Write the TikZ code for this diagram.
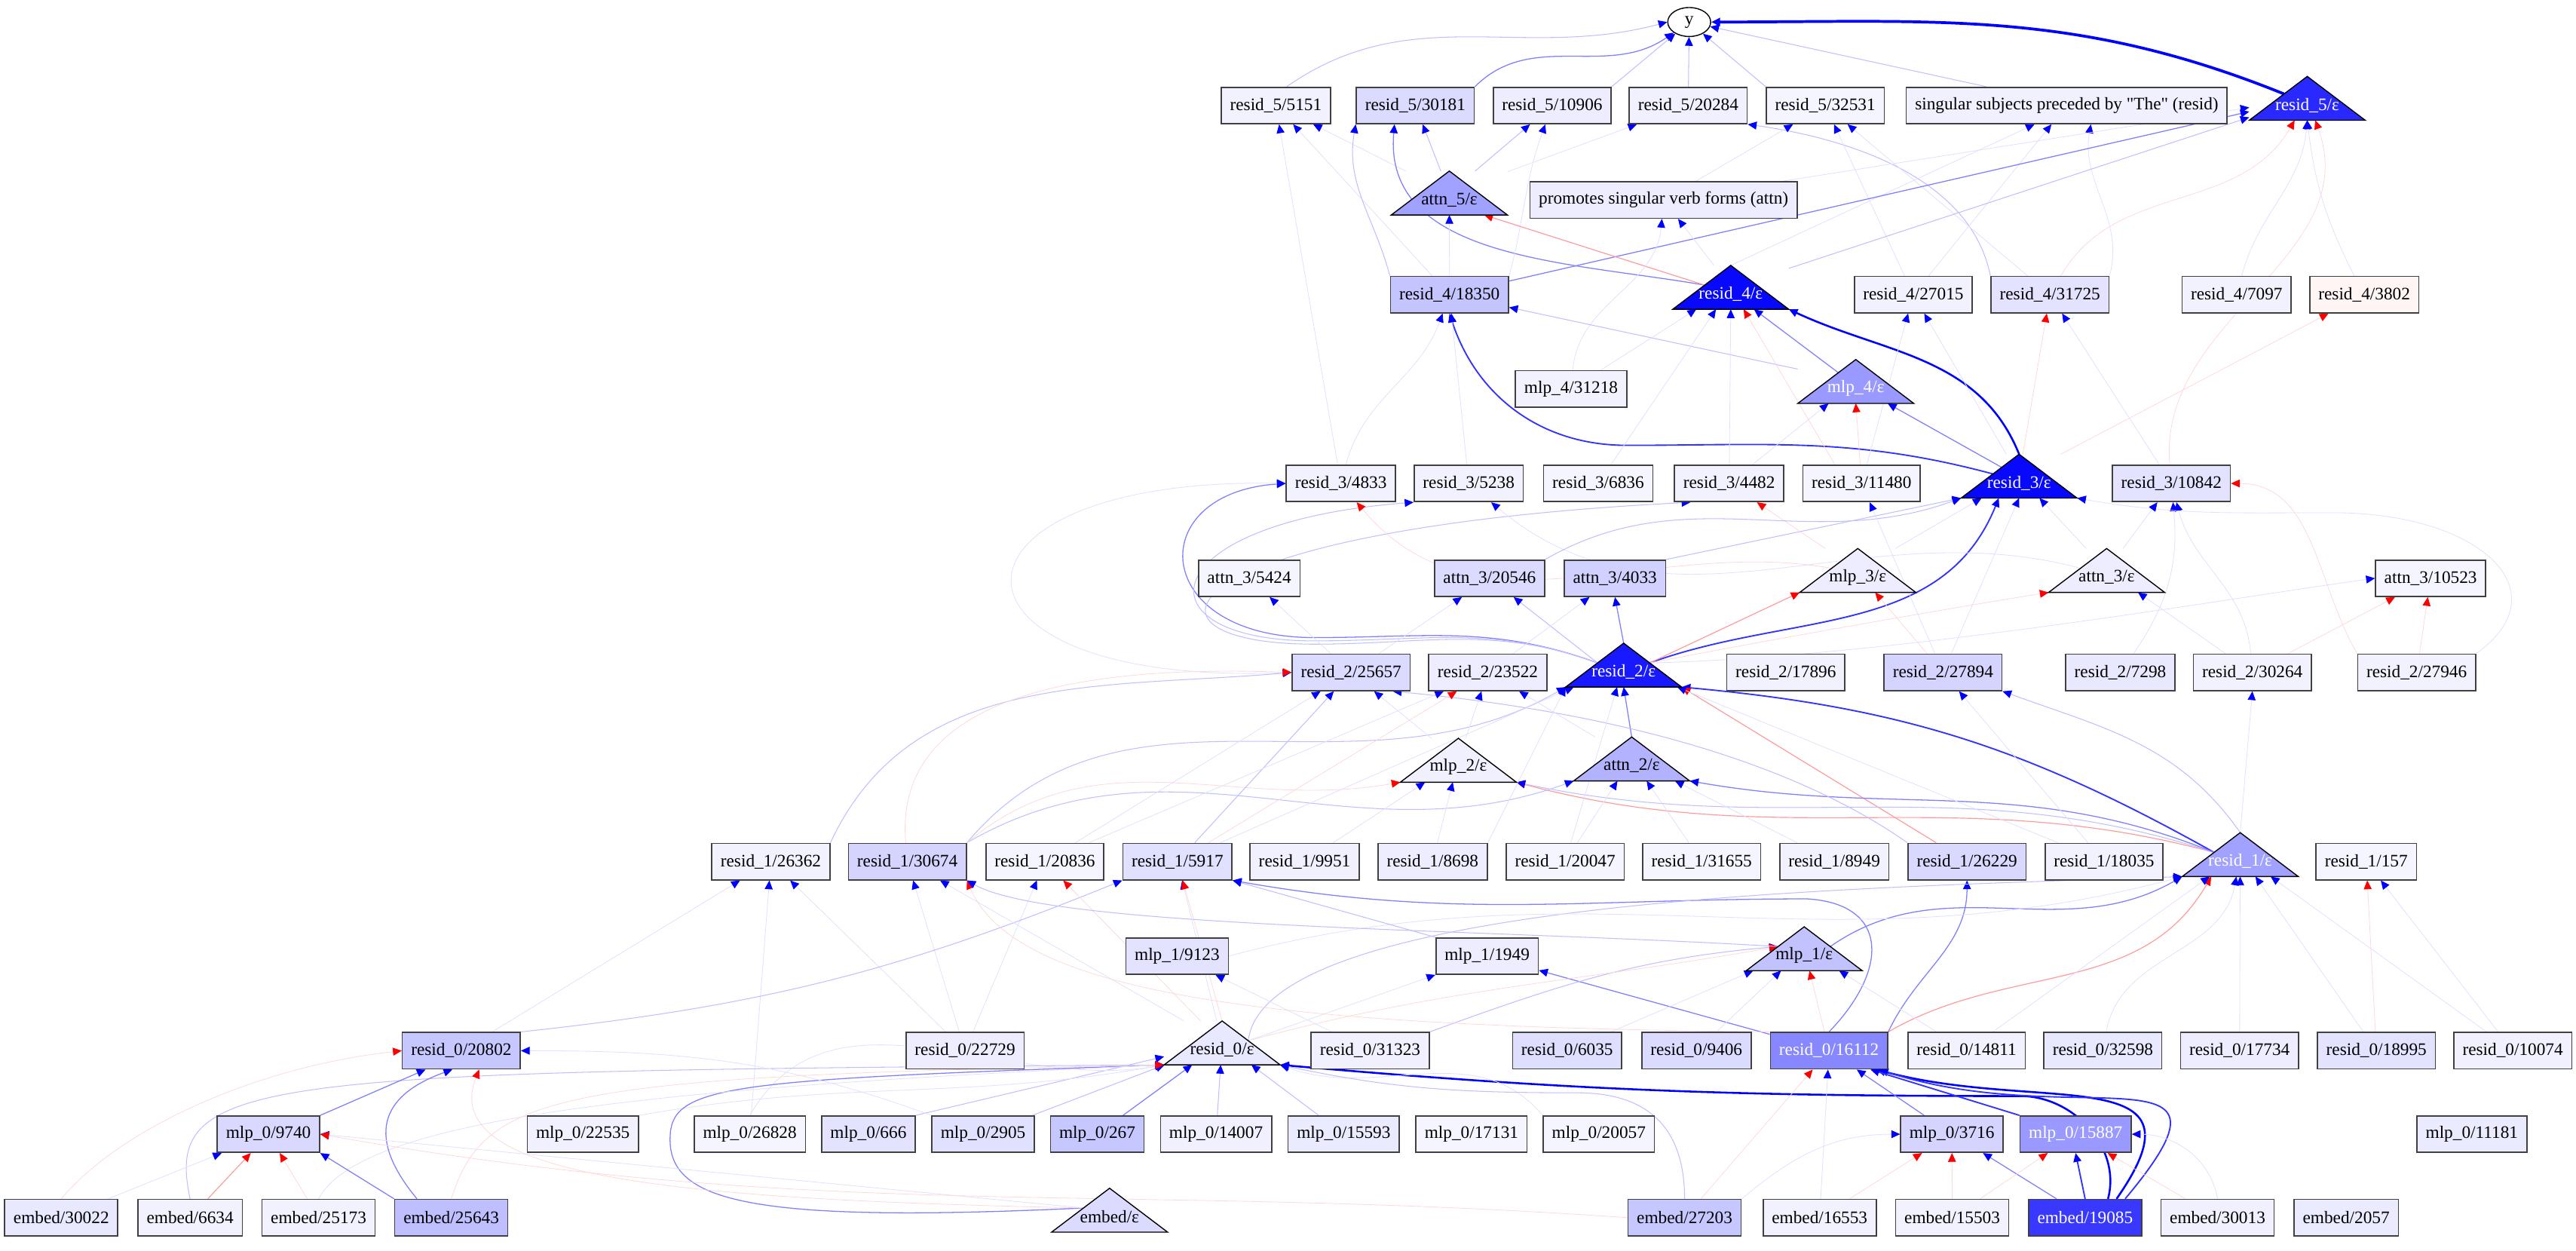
\documentclass[tikz,border=0pt]{standalone}
\usepackage{fontspec}
\setmainfont{Liberation Serif}[Ligatures=TeXOff]
\usetikzlibrary{arrows.meta,calc,shapes.geometric}
\pgfdeclarelayer{edges}
\pgfsetlayers{edges,main}

\tikzset{
  box/.style={draw=black!75,line width=0.7pt,minimum height=0.73cm,inner xsep=5pt,inner ysep=0pt},
  tribox/.style={minimum width=2.31cm,minimum height=0.865cm,inner sep=0pt},
  ynode/.style={ellipse,draw,fill=white,line width=0.6pt,minimum width=0.86cm,minimum height=0.58cm,inner sep=0pt},
  bt/.style={-{Triangle[color=blue,length=5pt,width=4.5pt]}},
  rt/.style={-{Triangle[color=red,length=5pt,width=4.5pt]}},
  w0/.style={bt,draw=blue!12,line width=0.35pt},
  w1/.style={bt,draw=blue!25,line width=0.45pt},
  w2/.style={bt,draw=blue!50,line width=0.55pt},
  w3/.style={bt,draw=blue!80,line width=0.8pt},
  w4/.style={bt,draw=blue,line width=1.1pt},
  w5/.style={bt,draw=blue,line width=1.6pt},
  rd0/.style={rt,draw=red!15,line width=0.35pt},
  rd1/.style={rt,draw=red!40,line width=0.5pt}
}

% triangle node: name, x, y of label, fill, text colour, label
\newcommand{\trinode}[6]{%
  \path (#2,#3) ++(0,4.15) node[tribox] (#1) {};
  \filldraw[fill=#4,draw=black,line width=0.6pt] (#1.south west) -- (#1.south east) -- (#1.north) -- cycle;
  \node[text=#5,inner sep=0pt] (#1-t) at (#2,#3) {#6};
  \coordinate (#1-l) at ($(#1.north)!0.45!(#1.south west)$);
  \coordinate (#1-r) at ($(#1.north)!0.45!(#1.south east)$);
}

\begin{document}
\begin{tikzpicture}[x=0.0329cm,y=0.0329cm]
  \useasboundingbox (0,0) rectangle (1568,-761);

  \node[ynode] (y) at (1028.2,-13.4) {y};

  % resid_5
  \node[box,fill=blue!5] (r5a) at (776.6,-64.2) {resid\_5/5151};
  \node[box,fill=blue!14] (r5b) at (861.5,-64.2) {resid\_5/30181};
  \node[box,fill=blue!7] (r5c) at (944.8,-64.2) {resid\_5/10906};
  \node[box,fill=blue!6] (r5d) at (1027.6,-64.2) {resid\_5/20284};
  \node[box,fill=blue!4] (r5e) at (1111,-64.2) {resid\_5/32531};
  \node[box,fill=blue!6] (r5f) at (1258,-64.2) {singular subjects preceded by "The" (resid)};
  \trinode{r5eps}{1404.4}{-64}{blue!84}{white}{resid\_5/ε}

  \trinode{a5eps}{882.2}{-121.6}{blue!37}{black}{attn\_5/ε}
  \node[box,fill=blue!7] (a5f) at (1012.6,-121.7) {promotes singular verb forms (attn)};

  % resid_4
  \node[box,fill=blue!23] (r4a) at (882.3,-179.3) {resid\_4/18350};
  \trinode{r4eps}{1053.5}{-179}{blue!97}{white}{resid\_4/ε}
  \node[box,fill=blue!5] (r4b) at (1164.6,-179.3) {resid\_4/27015};
  \node[box,fill=blue!11] (r4c) at (1247.8,-179.3) {resid\_4/31725};
  \node[box,fill=blue!5] (r4d) at (1361.4,-179.3) {resid\_4/7097};
  \node[box,fill=red!4] (r4e) at (1439.1,-179.3) {resid\_4/3802};

  \node[box,fill=blue!5] (m4a) at (956.3,-236.7) {mlp\_4/31218};
  \trinode{m4eps}{1129.6}{-236.3}{blue!40}{white}{mlp\_4/ε}

  % resid_3
  \node[box,fill=blue!5] (r3a) at (816.2,-294.2) {resid\_3/4833};
  \node[box,fill=blue!5] (r3b) at (894,-294.2) {resid\_3/5238};
  \node[box,fill=blue!4] (r3c) at (972.8,-294.2) {resid\_3/6836};
  \node[box,fill=blue!5] (r3d) at (1052.5,-294.2) {resid\_3/4482};
  \node[box,fill=blue!4] (r3e) at (1133.1,-294.2) {resid\_3/11480};
  \trinode{r3eps}{1229}{-293.9}{blue!97}{white}{resid\_3/ε}
  \node[box,fill=blue!11] (r3f) at (1321.7,-294.2) {resid\_3/10842};

  \node[box,fill=blue!4] (a3a) at (760.4,-351.9) {attn\_3/5424};
  \node[box,fill=blue!14] (a3b) at (906.7,-351.9) {attn\_3/20546};
  \node[box,fill=blue!18] (a3c) at (983,-351.9) {attn\_3/4033};
  \trinode{m3eps}{1130.8}{-351.3}{blue!7}{black}{mlp\_3/ε}
  \trinode{a3eps}{1282.3}{-351.3}{blue!7}{black}{attn\_3/ε}
  \node[box,fill=blue!4] (a3d) at (1479.5,-351.9) {attn\_3/10523};

  % resid_2
  \node[box,fill=blue!14] (r2a) at (822.4,-409.2) {resid\_2/25657};
  \node[box,fill=blue!7] (r2b) at (905.6,-409.2) {resid\_2/23522};
  \trinode{r2eps}{988.3}{-408.9}{blue!90}{white}{resid\_2/ε}
  \node[box,fill=blue!5] (r2c) at (1087,-409.2) {resid\_2/17896};
  \node[box,fill=blue!17] (r2d) at (1182.7,-409.2) {resid\_2/27894};
  \node[box,fill=blue!9] (r2e) at (1290.6,-409.2) {resid\_2/7298};
  \node[box,fill=blue!5] (r2f) at (1371,-409.2) {resid\_2/30264};
  \node[box,fill=blue!5] (r2g) at (1471,-409.2) {resid\_2/27946};

  \trinode{m2eps}{887.7}{-466.8}{blue!6}{black}{mlp\_2/ε}
  \trinode{a2eps}{993.2}{-466}{blue!30}{black}{attn\_2/ε}

  % resid_1
  \node[box,fill=blue!5] (r1a) at (469.2,-524.3) {resid\_1/26362};
  \node[box,fill=blue!17] (r1b) at (552.3,-524.3) {resid\_1/30674};
  \node[box,fill=blue!4] (r1c) at (636,-524.3) {resid\_1/20836};
  \node[box,fill=blue!12] (r1d) at (716.7,-524.3) {resid\_1/5917};
  \node[box,fill=blue!6] (r1e) at (794.1,-524.3) {resid\_1/9951};
  \node[box,fill=blue!7] (r1f) at (872,-524.3) {resid\_1/8698};
  \node[box,fill=blue!4] (r1g) at (952.7,-524.3) {resid\_1/20047};
  \node[box,fill=blue!4] (r1h) at (1035.8,-524.3) {resid\_1/31655};
  \node[box,fill=blue!5] (r1i) at (1116.5,-524.3) {resid\_1/8949};
  \node[box,fill=blue!15] (r1j) at (1197.3,-524.3) {resid\_1/26229};
  \node[box,fill=blue!5] (r1k) at (1280.7,-524.3) {resid\_1/18035};
  \trinode{r1eps}{1363.6}{-524.2}{blue!37}{white}{resid\_1/ε}
  \node[box,fill=blue!4] (r1l) at (1440.3,-524.3) {resid\_1/157};

  \node[box,fill=blue!11] (m1a) at (716.5,-581.8) {mlp\_1/9123};
  \node[box,fill=blue!7] (m1b) at (905.2,-581.8) {mlp\_1/1949};
  \trinode{m1eps}{1098.2}{-581.5}{blue!24}{black}{mlp\_1/ε}

  % resid_0
  \node[box,fill=blue!22] (r0a) at (280.8,-639.4) {resid\_0/20802};
  \node[box,fill=blue!7] (r0b) at (587.4,-639.4) {resid\_0/22729};
  \trinode{r0eps}{743.9}{-638.8}{blue!9}{black}{resid\_0/ε}
  \node[box,fill=blue!6] (r0c) at (834,-639.4) {resid\_0/31323};
  \node[box,fill=blue!13] (r0d) at (953.9,-639.4) {resid\_0/6035};
  \node[box,fill=blue!14] (r0e) at (1032.6,-639.4) {resid\_0/9406};
  \node[box,fill=blue!47,text=white] (r0f) at (1113.3,-639.4) {resid\_0/16112};
  \node[box,fill=blue!5] (r0g) at (1197,-639.4) {resid\_0/14811};
  \node[box,fill=blue!9] (r0h) at (1280,-639.4) {resid\_0/32598};
  \node[box,fill=blue!7] (r0i) at (1363.2,-639.4) {resid\_0/17734};
  \node[box,fill=blue!11] (r0j) at (1446.5,-639.4) {resid\_0/18995};
  \node[box,fill=blue!6] (r0k) at (1529.5,-639.4) {resid\_0/10074};

  % mlp_0
  \node[box,fill=blue!15] (m0a) at (163.4,-690.2) {mlp\_0/9740};
  \node[box,fill=blue!6] (m0b) at (354.8,-690.2) {mlp\_0/22535};
  \node[box,fill=blue!4] (m0c) at (456.4,-690.2) {mlp\_0/26828};
  \node[box,fill=blue!11] (m0d) at (528.6,-690.2) {mlp\_0/666};
  \node[box,fill=blue!12] (m0e) at (598.4,-690.2) {mlp\_0/2905};
  \node[box,fill=blue!22] (m0f) at (667.9,-690.2) {mlp\_0/267};
  \node[box,fill=blue!6] (m0g) at (740.2,-690.2) {mlp\_0/14007};
  \node[box,fill=blue!8] (m0h) at (817.9,-690.2) {mlp\_0/15593};
  \node[box,fill=blue!4] (m0i) at (895.7,-690.2) {mlp\_0/17131};
  \node[box,fill=blue!4] (m0j) at (973.2,-690.2) {mlp\_0/20057};
  \node[box,fill=blue!17] (m0k) at (1188.1,-690.2) {mlp\_0/3716};
  \node[box,fill=blue!40,text=white] (m0l) at (1263.4,-690.2) {mlp\_0/15887};
  \node[box,fill=blue!8] (m0m) at (1504.6,-690.2) {mlp\_0/11181};

  % embed
  \node[box,fill=blue!9] (e1) at (37.3,-741) {embed/30022};
  \node[box,fill=blue!5] (e2) at (115.7,-741) {embed/6634};
  \node[box,fill=blue!5] (e3) at (193.9,-741) {embed/25173};
  \node[box,fill=blue!25] (e4) at (274.7,-741) {embed/25643};
  \trinode{eeps}{675.4}{-740.6}{blue!14}{black}{embed/ε}
  \node[box,fill=blue!22] (e5) at (1025.4,-741) {embed/27203};
  \node[box,fill=blue!5] (e6) at (1107.6,-741) {embed/16553};
  \node[box,fill=blue!5] (e7) at (1188.3,-741) {embed/15503};
  \node[box,fill=blue!78,text=white] (e8) at (1269.2,-741) {embed/19085};
  \node[box,fill=blue!6] (e9) at (1349.8,-741) {embed/30013};
  \node[box,fill=blue!8] (e10) at (1428.1,-741) {embed/2057};

  \begin{pgfonlayer}{edges}
  % into y
  \draw[w5] ($(r5eps.north)!0.4!(r5eps.south west)$) to[out=158,in=0] (y.east);
  \draw[w1] (r5a.60) to[out=35,in=195] (y.west);
  \draw[w2] (r5b.north east) to[out=45,in=215] (y.south west);
  \draw[w1] (r5c.north east) -- (y);
  \draw[w1] (r5d) -- (y);
  \draw[w1] (r5e.north west) -- (y);
  \draw[w1] ($(r5f.north)!0.5!(r5f.north west)$) -- (y);

  % into resid_5 and attn_5
  \draw[w0] (r3a) -- (r5a);
  \draw[w0] (r4a) -- (r5a);
  \draw[w0] (a5eps) -- (r5a);
  \draw[w2] (r4eps-l) to[out=170,in=-95] ($(r5b.south)!0.35!(r5b.south west)$);
  \draw[w1] (a5eps) -- (r5b);
  \draw[w1] (r4a.north west) to[out=105,in=-100] (r5b.south west);
  \draw[w1] (a5eps) -- (r5c);
  \draw[w0] (r4a.north east) to[out=75,in=-110] (r5c);
  \draw[w0] (a5eps) -- (r5d);
  \draw[w1] (r4c.north west) .. controls (1200,-110) and (1130,-85) .. (r5d.south east);
  \draw[w0] (r4b) -- (r5e);
  \draw[w0] (r4c) -- (r5e);
  \draw[w0] (a5f) -- (r5e);
  \draw[w0] (r4eps.north) -- ($(r5f.south)!0.2!(r5f.south west)$);
  \draw[w0] (r4b) -- (r5f);
  \draw[w0] (r4c.north east) to[out=75,in=-100] ($(r5f.south)!0.15!(r5f.south east)$);
  \draw[w2] (r4a) -- (r5eps);
  \draw[w1] (r4eps) -- (r5eps);
  \draw[w0] (a5f) -- (r5eps);
  \draw[rd0] (r4c) to[out=60,in=-120] (r5eps);
  \draw[w0] (r4d) to[out=75,in=-95] (r5eps.south);
  \draw[w0] (r4e) to[bend left=10] (r5eps.south);
  \draw[rd0] (r3f) to[out=95,in=-70] (r5eps);
  \draw[rd1] (r4eps-l) -- ($(a5eps.south)!0.6!(a5eps.south east)$);
  \draw[w0] (r4a) -- (a5eps);
  \draw[w0] (r4eps) -- (a5f);
  \draw[w0] (m4a) to[out=85,in=-95] (a5f);

  % into resid_4 and mlp_4
  \draw[w4] (r3eps.north) to[out=112,in=-25] (r4eps.south east);
  \draw[w3] (r3eps-l) to[out=165,in=0] (990,-271) to[out=180,in=-72] (r4a.south);
  \draw[w2] ($(m4eps.north)!0.3!(m4eps.south west)$) -- ($(r4eps.south)!0.4!(r4eps.south east)$);
  \draw[w2] ($(r3eps.north)!0.3!(r3eps.south west)$) -- ($(m4eps.south)!0.55!(m4eps.south east)$);
  \draw[w1] (m4eps) -- (r4a);
  \draw[w0] (m4a) -- (r4eps);
  \draw[w0] (r3d) -- (r4eps.south);
  \draw[w0] (r3c) -- (r4eps);
  \draw[rd0] ($(r3e.north)!0.45!(r3e.north west)$) -- (r4eps);
  \draw[w0] (r3d) -- (m4eps);
  \draw[rd0] (r3e) -- (m4eps.south);
  \draw[w0] (r3e) -- (r4b);
  \draw[w0] (r3eps) -- (r4b);
  \draw[w0] (r3f) -- (r4c);
  \draw[rd0] (r3eps) -- (r4c);
  \draw[rd0] (r3eps) -- (r4e);
  \draw[w0] (r3a) to[out=75,in=-110] (r4a);
  \draw[w0] (r3b) -- (r4a);

  % into resid_3 and attn_3
  \draw[w3] (r2eps-r) to[out=20,in=-112] ($(r3eps.south)!0.35!(r3eps.south west)$);
  \draw[w2] (r2eps-l) to[out=160,in=0] (800,-388) .. controls (700,-388) and (695,-300) .. (r3a.west);
  \draw[w1] (r2eps-l) to[out=160,in=0] (800,-390) .. controls (690,-390) and (700,-318) .. (r3b.south west);
  \draw[w1] (r2eps-l) to[out=160,in=0] (800,-392) .. controls (680,-392) and (705,-322) .. ($(r3d.south)!0.7!(r3d.south west)$);
  \draw[w0] (r2a.west) .. controls (560,-420) and (560,-290) .. (r3a.west);
  \draw[w1] (a3c.north east) -- (r3eps.south west);
  \draw[w2] (r2eps.north) -- (a3c.south);
  \draw[w1] (r2eps-l) -- (a3b);
  \draw[rd1] (r2eps-r) -- (m3eps.south west);
  \draw[rd0] (r2d) -- ($(m3eps.south)!0.3!(m3eps.south east)$);
  \draw[w0] (r2d) -- (r3eps.south);
  \draw[rd0] (r2eps-r) .. controls (1100,-385) and (1200,-368) .. (a3eps.south west);
  \draw[w0] (r2f) -- (a3eps);
  \draw[w0] (r2e) to[bend right=20] (r3f);
  \draw[w0] (r2f) to[out=95,in=-75] (r3f);
  \draw[w0] (r2g.north east) .. controls (1560,-360) and (1510,-312) .. (1420,-312) to[out=180,in=-10] (r3eps.south east);
  \draw[w0] (a3eps) -- (r3f);
  \draw[w0] (a3eps) -- (r3eps);
  \draw[w0] (m3eps) -- (r3eps);
  \draw[rd0] (m3eps) -- (r3d);
  \draw[rd0] (m3eps-l) to[out=170,in=-50] (r3a);
  \draw[w0] (a3eps-l) to[out=165,in=-40] (r3b);
  \draw[w1] (a3b.north east) to[out=30,in=-160] (r3eps.south west);
  \draw[w0] (r2b) -- (a3c);
  \draw[w0] (r2a) -- (a3b);
  \draw[w0] (r2a) -- (a3a);
  \draw[w0] (r2eps-r) .. controls (1150,-400) and (1350,-365) .. (a3d.west);
  \draw[rd0] (r2f) -- (a3d);
  \draw[rd0] (r2g) -- (a3d);
  \draw[rd0] (r2g.north west) to[out=120,in=0] (r3f.east);
  \draw[w0] (r2d) -- (r3e);

  % into resid_2
  \draw[w3] (r1eps-l) to[bend right=12] (r2eps.south east);
  \draw[w2] (a2eps.north) -- (r2eps.south);
  \draw[rd1] (r1j) -- (r2eps.south east);
  \draw[rd1] (r1eps-l) to[out=165,in=-15] (m2eps.south east);
  \draw[w1] (r1eps-l) to[out=162,in=-12] (m2eps.south east);
  \draw[w2] (r1eps-l) to[out=158,in=-10] (a2eps.south east);
  \draw[w1] (r1eps.north) to[out=125,in=-20] (r2d.south east);
  \draw[w0] (r1eps.north) -- (r2f.south);
  \draw[w1] (r1j.north west) .. controls (1100,-470) and (1000,-435) .. ($(r2a.south)!0.7!(r2a.south east)$);
  \draw[w1] (r1a.north east) to[out=65,in=185] (r2a.west);
  \draw[rd0] (r1b) to[out=95,in=178] (r2a.west);
  \draw[w1] (r1b.north east) to[out=50,in=-150] (r2eps.south west);
  \draw[w1] (r1b.north east) to[out=30,in=-160] (a2eps.south west);
  \draw[rd0] (r1b.north east) to[out=40,in=-170] (m2eps.south west);
  \draw[w1] (r1d) -- (r2a);
  \draw[w0] (r1d) -- (r2eps);
  \draw[w0] (r1e) -- (m2eps);
  \draw[w0] (r1f.north east) -- (r2eps.south west);
  \draw[w0] (r1f) -- (m2eps);
  \draw[w0] (r1g) -- (r2eps);
  \draw[w0] (r1g) -- (a2eps);
  \draw[w0] (r1h) -- (a2eps);
  \draw[w0] (r1i) -- (a2eps);
  \draw[w0] (r1c) -- (r2b);
  \draw[w0] (r1c) -- (r2a);
  \draw[w0] (r1k) -- (r2eps);
  \draw[w0] (r1k) -- (r2d);
  \draw[w0] (m2eps) -- (r2a);
  \draw[w0] (m2eps) -- (r2b);
  \draw[w0] (a2eps) -- (r2b);
  \draw[rd0] (r1d) -- (r2b);

  % into resid_1 and mlp_1
  \draw[rd1] (r0f.north east) to[out=30,in=-120] ($(r1eps.south)!0.5!(r1eps.south west)$);
  \draw[w2] (r0f.north east) to[out=65,in=-90] (r1j.south);
  \draw[w2] (r0f.north) .. controls (1150,-590) and (1150,-550) .. (1100,-547) to[out=180,in=-10] (r1d.south east);
  \draw[w2] (r0f) -- (m1b);
  \draw[w2] (m1eps-r) to[out=35,in=-150] (r1eps.south west);
  \draw[w1] (r0eps-r) .. controls (770,-545) and (1150,-540) .. (r1eps.south west);
  \draw[w0] (r0g) -- (r1eps);
  \draw[w0] (r0h) to[out=80,in=-100] (r1eps);
  \draw[w0] (r0i) -- (r1eps);
  \draw[w0] (r0j) -- (r1eps);
  \draw[w0] (r0k) -- (r1eps);
  \draw[rd0] (r0j) -- (r1l);
  \draw[w0] (r0k) -- (r1l);
  \draw[w0] (r0g) -- (m1eps);
  \draw[w0] (r0e) -- (m1eps);
  \draw[w0] (r0d) -- (m1eps);
  \draw[w1] (r0c.north east) to[out=20,in=185] (m1eps-l);
  \draw[rd0] (r0eps-r) to[out=15,in=190] (m1eps-l);
  \draw[rd0] (r0f) -- (m1eps);
  \draw[w0] (r0b) -- (r1b);
  \draw[w0] (r0b) -- (r1a);
  \draw[w0] (r0b) -- (r1c);
  \draw[w0] (r0a) -- (r1a);
  \draw[w0] (m0c) -- (r1a);
  \draw[w1] (r0a.north east) to[bend right=8] (r1d.south west);
  \draw[w0] (r0eps) -- (r1d);
  \draw[w0] (r0eps) -- (r1b);
  \draw[rd0] (r0eps) -- (r1c);
  \draw[rd0] (r0eps.north) -- (r1d);
  \draw[w0] (r0c) -- (m1a);
  \draw[w0] (r0eps-r) -- (m1b.south west);
  \draw[w0] (m1a.east) to[out=15,in=-165] (r1eps.south west);
  \draw[w1] (m1b.north west) -- (r1d.south east);
  \draw[rd0] (r0f.north west) .. controls (800,-625) and (620,-610) .. (r1b.south east);
  \draw[w1] (m1eps-l) .. controls (900,-565) and (640,-565) .. (r1b.south east);

  % into resid_0 and mlp_0
  \draw[w4] ($(e8.north)!0.4!(e8.north east)$) to[out=75,in=0] (1230,-667) to[out=180,in=-5] (r0eps.south east);
  \draw[w4] ($(e8.north)!0.55!(e8.north east)$) to[out=55,in=-15,looseness=1.6] ($(r0f.south)!0.8!(r0f.south east)$);
  \draw[w3] ($(e8.north)!0.7!(e8.north east)$) to[out=50,in=-18,looseness=1.9] ($(r0f.south)!0.85!(r0f.south east)$);
  \draw[w3] (m0l.north west) -- ($(r0f.south)!0.7!(r0f.south east)$);
  \draw[w2] (m0k) -- (r0f);
  \draw[w3] (e8.north) -- (m0l.south);
  \draw[w2] ($(e8.north)!0.5!(e8.north west)$) -- ($(m0k.south)!0.6!(m0k.south east)$);
  \draw[rd0] (e7) -- (m0k);
  \draw[rd0] (e6) -- (m0k);
  \draw[rd0] (e7) -- (m0l);
  \draw[rd0] (e9) -- (m0l);
  \draw[rd0] (e5) -- (r0f);
  \draw[w0] (e6) -- (r0f);
  \draw[w0] (e5.north east) to[out=40,in=180] (m0k.west);
  \draw[w0] (e9.north) to[out=100,in=0] (m0l.east);
  \draw[w1] (m0d.north east) -- (r0eps);
  \draw[w1] (m0e) -- (r0eps);
  \draw[w2] (m0f) -- (r0eps);
  \draw[w1] (m0g) -- (r0eps);
  \draw[w1] (m0h) -- (r0eps);
  \draw[w0] (m0b.north east) to[out=10,in=190] (r0eps.south west);
  \draw[w0] (m0c.north) to[out=60,in=190] (r0eps.south west);
  \draw[w0] (m0j.north west) to[out=130,in=-20] (r0eps.south east);
  \draw[w1] (e5.north) to[out=90,in=0,looseness=1.2] (960,-665) to[out=180,in=-12] (r0eps.south east);
  \draw[w2] (eeps-l) .. controls (450,-745) and (405,-730) .. (408,-690) .. controls (410,-660) and (450,-657) .. (r0eps.south west);
  \draw[w1] (e2.north) .. controls (100,-655) and (150,-652) .. (r0eps.south west);
  \draw[w0] (e3.north) .. controls (220,-680) and (400,-662) .. (r0eps.south west);
  \draw[rd0] (e4.north) .. controls (295,-665) and (340,-655) .. (r0eps.south west);
  \draw[w2] (m0a.north east) -- ($(r0a.south)!0.6!(r0a.south west)$);
  \draw[w2] ($(e4.north)!0.6!(e4.north west)$) to[bend left=55,looseness=1.5] ($(r0a.south)!0.15!(r0a.south west)$);
  \draw[w2] (e4.north west) -- (m0a.south east);
  \draw[w0] (e1) -- (m0a);
  \draw[rd1] (e2) -- (m0a);
  \draw[rd0] (e3) -- (m0a);
  \draw[rd0] (e1.north) .. controls (70,-690) and (150,-650) .. (r0a.west);
  \draw[rd0] (eeps-l) .. controls (420,-730) and (265,-718) .. ($(r0a.south)!0.3!(r0a.south east)$);
  \draw[w0] (eeps-l) -- (m0a.east);
  \draw[rd0] (e5.west) to[out=176,in=-10] (m0a.east);
  \draw[w0] (m0e) to[out=160,in=0] (r0a.east);
  \end{pgfonlayer}
\end{tikzpicture}
\end{document}
